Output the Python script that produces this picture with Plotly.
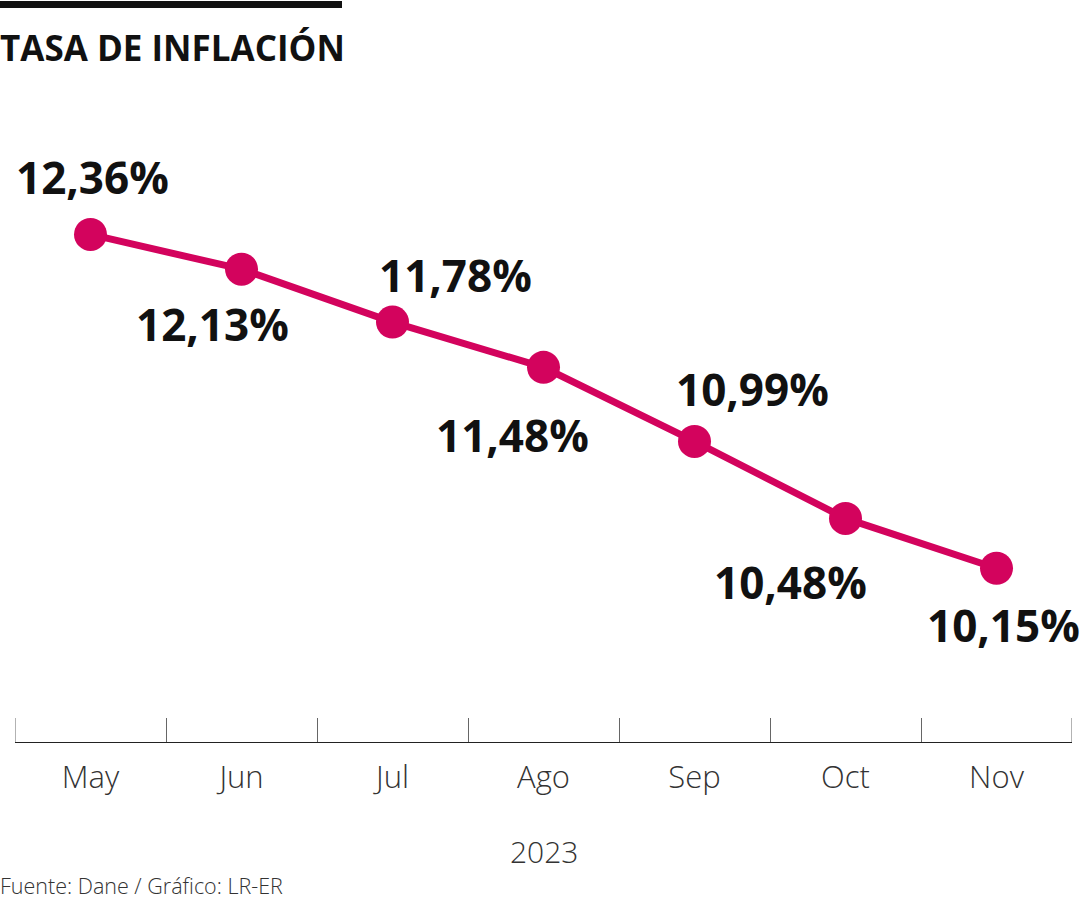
import plotly.graph_objects as go

months = ["May", "Jun", "Jul", "Ago", "Sep", "Oct", "Nov"]
inflation = [12.36, 12.13, 11.78, 11.48, 10.99, 10.48, 10.15]
labels = ["12,36%", "12,13%", "11,78%", "11,48%", "10,99%", "10,48%", "10,15%"]
# label offsets in pixels (x, y) relative to each point
label_offsets = [(2, 57), (-29, -55), (63, 47), (-31, -68), (58, 52), (-55, -64), (7, -57)]

title = "TASA DE INFLACIÓN"
year = "2023"
source = "Fuente: Dane / Gráfico: LR-ER"

color = "#D3035D"

W, H = 1080, 900
L, R, T, B = 15, 8, 100, 158
PW, PH = W - L - R, H - T - B

def px(x):
    return (x - L) / PW

def py(y):
    return (H - B - y) / PH

fig = go.Figure()
fig.add_trace(go.Scatter(
    x=months, y=inflation, mode="lines+markers",
    line=dict(color=color, width=7),
    marker=dict(color=color, size=33),
    hoverinfo="skip",
))

for m, v, t, (dx, dy) in zip(months, inflation, labels, label_offsets):
    fig.add_annotation(x=m, y=v, text=t, showarrow=False, xshift=dx, yshift=dy,
                       font=dict(family="Open Sans", size=44, color="#111", weight="bold"))

# top bar
fig.add_shape(type="rect", xref="paper", yref="paper",
              x0=px(0), x1=px(342), y0=py(8), y1=py(1),
              line_width=0, fillcolor="#111")

# end ticks of the axis
for xe in (-0.5, len(months) - 0.5):
    fig.add_shape(type="line", xref="x", yref="paper", x0=xe, x1=xe,
                  y0=0, y1=24 / PH, line=dict(color="#666", width=1))

fig.add_annotation(xref="paper", yref="paper", x=px(-2), y=py(47), text=title,
                   showarrow=False, xanchor="left", yanchor="middle",
                   font=dict(family="Open Sans", size=35, color="#111", weight="bold"))
fig.add_annotation(xref="paper", yref="paper", x=px(544), y=py(852), text=year,
                   showarrow=False, xanchor="center", yanchor="middle",
                   font=dict(family="Open Sans", size=30, color="#333", weight=300))
fig.add_annotation(xref="paper", yref="paper", x=px(-2), y=py(885), text=source,
                   showarrow=False, xanchor="left", yanchor="middle",
                   font=dict(family="Open Sans", size=21.5, color="#333", weight=300))

fig.update_xaxes(type="category", range=[-0.5, 6.5], tickson="boundaries",
                 ticks="inside", ticklen=24, tickwidth=1, tickcolor="#666",
                 showline=True, linecolor="#222", linewidth=1.2, showgrid=False,
                 zeroline=False, fixedrange=True,
                 tickfont=dict(family="Open Sans", size=31, color="#333", weight=300),
                 ticklabelstandoff=8)
fig.update_yaxes(visible=False, range=[9.0, 13.25], fixedrange=True)

fig.update_layout(width=W, height=H, margin=dict(l=L, r=R, t=T, b=B),
                  plot_bgcolor="white", paper_bgcolor="white", showlegend=False)

fig.write_html("out.html", config={"displayModeBar": False},
               post_script="document.body.style.margin='0';")
